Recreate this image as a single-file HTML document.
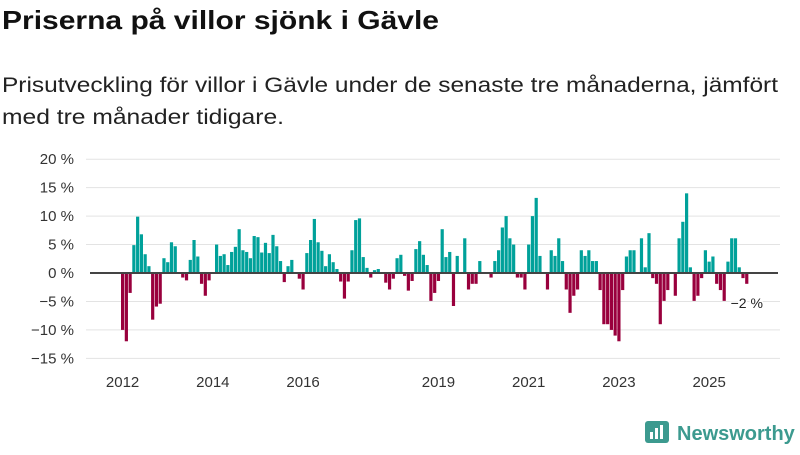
<!DOCTYPE html>
<html><head><meta charset="utf-8"><style>
body{margin:0;background:#fff;width:800px;height:450px;overflow:hidden;font-family:"Liberation Sans",sans-serif;}
</style></head><body>
<svg width="800" height="450" xmlns="http://www.w3.org/2000/svg" font-family="Liberation Sans, sans-serif">
<text x="2" y="29" font-size="26" font-weight="bold" fill="#111" textLength="437" lengthAdjust="spacingAndGlyphs">Priserna på villor sjönk i Gävle</text>
<text x="2" y="92" font-size="21" fill="#222" textLength="776" lengthAdjust="spacingAndGlyphs">Prisutveckling för villor i Gävle under de senaste tre månaderna, jämfört</text>
<text x="2" y="124" font-size="21" fill="#222" textLength="282" lengthAdjust="spacingAndGlyphs">med tre månader tidigare.</text>
<g id="grid"></g><g id="bars"></g><g id="xl"></g>
<g>
<rect x="645" y="421" width="24" height="22" rx="3" fill="#3c9a8f"/>
<rect x="650" y="432" width="3" height="7" fill="#fff"/><rect x="655" y="428" width="3" height="11" fill="#fff"/><rect x="660" y="425" width="3" height="14" fill="#fff"/>
<text x="677" y="440" font-size="20" font-weight="bold" fill="#3c9a8f">Newsworthy</text>
</g>
</svg>
<script>
const values=[-10,-12,-3.5,4.9,9.9,6.8,3.3,1.2,-8.2,-5.9,-5.4,2.6,1.9,5.4,4.7,0,-0.8,-1.3,2.3,5.8,2.9,-1.9,-4,-1.3,0,5,3,3.3,1.4,3.7,4.6,7.7,4,3.7,2.6,6.5,6.3,3.6,5.3,3.5,6.7,4.7,
2.1,-1.6,1.2,2.3,0,-1,-2.9,3.5,5.8,9.5,5.4,3.9,1.2,3.3,1.9,0.7,-1.5,-4.5,-1.5,4,9.3,9.6,2.8,0.9,-0.8,0.5,0.7,0,-1.7,-2.9,-1,2.6,3.2,-0.5,-3.1,-1.4,4.2,5.6,3.2,1.4,-4.9,-3.5,-1.4,
7.7,2.8,3.7,-5.8,3,0,6.1,-2.9,-1.9,-1.9,2.1,0,0,-0.8,2.1,4,8,10,6.1,5,-0.8,-0.8,-2.9,5,10,13.2,3,0,-2.9,4,3,6.1,2.1,-2.9,-7,-4,-2.9,4,3,4,2.1,2.1,-3,
-9,-9,-10,-11,-12,-3,2.9,4,4,0,6.1,1,7,-0.9,-1.9,-9,-4.9,-3,0,-4,6.1,9,14,1,-4.9,-4,-0.9,4,2,2.9,-1.9,-3,-4.9,2,6.1,6.1,1,-0.9,-1.9];
const yTicks=[20,15,10,5,0,-5,-10,-15];
const yTickLabels=["20 %","15 %","10 %","5 %","0 %","−5 %","−10 %","−15 %"];
const xYears=[2012,2014,2016,2019,2021,2023,2025];
const startYear=2012;
const lastLabel="−2 %";
const NS="http://www.w3.org/2000/svg";
const pitch=3.76,x0=121;
function xs(i){return x0+i*pitch;}
function ys(v){return 273-v*5.69;}
function mk(t,a,p){const e=document.createElementNS(NS,t);for(const k in a)e.setAttribute(k,a[k]);p.appendChild(e);return e;}
const grid=document.getElementById('grid'),bars=document.getElementById('bars'),xl=document.getElementById('xl');
yTicks.forEach((v,i)=>{
 if(v!==0){const l=mk('line',{x1:86,x2:780,y1:ys(v),y2:ys(v),stroke:'#e3e3e3','stroke-width':1},grid);
 
 }
 const t=mk('text',{x:74,y:ys(v)+5,'text-anchor':'end','font-size':15,fill:'#333'},grid);
 t.textContent=yTickLabels[i];
 
 
});
values.forEach((v,i)=>{
 const y=ys(Math.max(v,0)),h=Math.abs(ys(v)-ys(0));
 const r=mk('rect',{x:xs(i),y:y,width:3.2,height:h,fill:v>=0?'#00a19a':'#99003d'},bars);
 
 
});
const z=mk('line',{x1:90,x2:778,y1:ys(0),y2:ys(0),stroke:'#444','stroke-width':2},bars);


xYears.forEach(yr=>{
 const t=mk('text',{x:xs((yr-startYear)*12)+1.6,y:387,'text-anchor':'middle','font-size':15,fill:'#333'},xl);
 t.textContent=yr;
 
 
});
const li=values.length-1;
const lb=mk('text',{x:xs(li)+1.6,y:ys(values[li])+24,'text-anchor':'middle','font-size':14,fill:'#222',stroke:'#fff','stroke-width':3,'paint-order':'stroke'},xl);
lb.textContent=lastLabel;


</script>
</body></html>
